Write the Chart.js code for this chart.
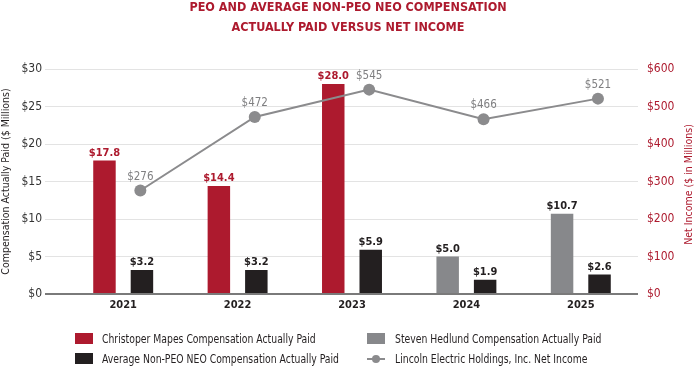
<!DOCTYPE html>
<html>
<head>
<meta charset="utf-8">
<script src="https://cdn.jsdelivr.net/npm/chart.js@4/dist/chart.umd.min.js"></script>
<style>
html,body{margin:0;padding:0;background:#fff;}
#wrap{position:relative;width:696px;height:366px;overflow:hidden;}
#c{position:absolute;left:0;top:0;}
#legend{position:absolute;left:0;top:0;width:696px;height:366px;pointer-events:none;
  font-family:'Liberation Sans Narrow','DejaVu Sans Condensed',sans-serif;font-size:12px;color:#231f20;}
.item{position:absolute;height:16px;line-height:16px;white-space:nowrap;}
.sw{position:absolute;left:0;top:2px;width:18px;height:11px;}
.ln{position:absolute;left:0;top:7px;width:18px;height:2px;}
.dot{position:absolute;left:5px;top:4px;width:8px;height:8px;border-radius:50%;}
.tx{position:absolute;top:0;transform:scaleX(0.86);transform-origin:0 50%;}
</style>
</head>
<body>
<div id="wrap">
<canvas id="c" width="696" height="366"></canvas>
<div id="legend"></div>
</div>
<script>
// ---- data ----
const years = ['2021', '2022', '2023', '2024', '2025'];
const mapesCAP = [17.8, 14.4, 28.0, null, null];
const hedlundCAP = [null, null, null, 5.0, 10.7];
const avgNeoCAP = [3.2, 3.2, 5.9, 1.9, 2.6];
const netIncome = [276, 472, 545, 466, 521];
const titleLines = ['PEO AND AVERAGE NON-PEO NEO COMPENSATION', 'ACTUALLY PAID VERSUS NET INCOME'];
const seriesNames = [
  'Christoper Mapes Compensation Actually Paid',
  'Steven Hedlund Compensation Actually Paid',
  'Average Non-PEO NEO Compensation Actually Paid',
  'Lincoln Electric Holdings, Inc. Net Income'
];

const FONT = "'Liberation Sans Narrow','DejaVu Sans Condensed',sans-serif";
const RED = '#ad1a2e';
const GRAY = '#87888b';
const BLACK = '#231f20';
const LINEGRAY = '#8b8b8d';

// Chart.js >= 4.5 splits bar groups by index axis; compensate so the bar pair stays centred.
const axisSplit = !!(Chart.controllers && Chart.controllers.bar &&
  typeof Chart.controllers.bar.prototype._getAxisCount === 'function');
const catPct = axisSplit ? 1.31 : 0.655;

const valueLabels = {
  id: 'valueLabels',
  afterDatasetsDraw(chart) {
    const ctx = chart.ctx;
    chart.data.datasets.forEach((ds, i) => {
      const meta = chart.getDatasetMeta(i);
      meta.data.forEach((el, j) => {
        const raw = ds.data[j];
        const val = (raw && typeof raw === 'object') ? raw.y : raw;
        if (val === null || val === undefined) return;
        ctx.save();
        ctx.textAlign = 'center';
        ctx.textBaseline = 'bottom';
        if (ds.type === 'line') {
          ctx.font = '11.5px ' + FONT;
          ctx.fillStyle = '#7f7f81';
          ctx.fillText('$' + val, el.x, el.y - 8);
        } else {
          ctx.font = 'bold 11px ' + FONT;
          ctx.fillStyle = ds.labelColor;
          ctx.fillText('$' + val.toFixed(1), el.x, el.y - 2);
        }
        ctx.restore();
      });
    });
  }
};

const rightTitle = {
  id: 'rightTitle',
  afterDraw(chart) {
    const ctx = chart.ctx;
    const a = chart.chartArea;
    ctx.save();
    ctx.translate(689, (a.top + a.bottom) / 2 + 3);
    ctx.rotate(-Math.PI / 2);
    ctx.font = '10.5px ' + FONT;
    ctx.fillStyle = RED;
    ctx.textAlign = 'center';
    ctx.textBaseline = 'middle';
    ctx.fillText('Net Income ($ in Millions)', 0, 0);
    ctx.restore();
  }
};

const barCommon = { categoryPercentage: catPct, barPercentage: 0.6, order: 1, yAxisID: 'y', xAxisID: 'x' };

const chart = new Chart(document.getElementById('c'), {
  type: 'bar',
  data: {
    labels: years,
    datasets: [
      {
        type: 'line', label: seriesNames[3],
        data: netIncome.map((v, i) => ({ x: i, y: v })),
        borderColor: LINEGRAY, backgroundColor: LINEGRAY, borderWidth: 2,
        pointRadius: 6, pointBackgroundColor: LINEGRAY, pointBorderWidth: 0,
        tension: 0, order: 0, yAxisID: 'y1', xAxisID: 'x2'
      },
      Object.assign({ label: seriesNames[0], data: mapesCAP, backgroundColor: RED, labelColor: RED, stack: 'peo' }, barCommon),
      Object.assign({ label: seriesNames[1], data: hedlundCAP, backgroundColor: GRAY, labelColor: BLACK, stack: 'peo' }, barCommon),
      Object.assign({ label: seriesNames[2], data: avgNeoCAP, backgroundColor: BLACK, labelColor: BLACK, stack: 'neo' }, barCommon)
    ]
  },
  options: {
    responsive: false,
    animation: false,
    events: [],
    layout: { padding: { top: 0, left: 0, right: 0, bottom: 52 } },
    plugins: {
      legend: { display: false },
      tooltip: { enabled: false },
      title: {
        display: true,
        text: titleLines,
        color: RED,
        font: { family: FONT, size: 12.5, weight: 'bold', lineHeight: 20 / 12.5 },
        padding: { top: -2, bottom: 31 }
      }
    },
    scales: {
      x: {
        type: 'category',
        offset: true,
        stacked: true,
        grid: { display: false, drawTicks: false },
        border: { display: false },
        ticks: { color: '#231f20', font: { family: FONT, size: 11, weight: 'bold' }, padding: 5 },
        afterFit(s) { s.height = 20; }
      },
      x2: {
        type: 'linear', display: false, offset: false, grid: { offset: false },
        min: -0.65, max: 4.35
      },
      y: {
        position: 'left',
        stacked: false,
        min: 0, max: 30,
        ticks: { stepSize: 5, color: '#333', padding: 3, font: { family: FONT, size: 12 }, callback: v => '$' + v },
        grid: {
          color: c => (c.tick && c.tick.value === 0) ? '#7a7a7a' : '#e3e3e3',
          lineWidth: c => (c.tick && c.tick.value === 0) ? 2 : 1,
          tickLength: 21, drawTicks: true
        },
        border: { display: false },
        title: { display: true, text: 'Compensation Actually Paid ($ Millions)', color: '#231f20', font: { family: FONT, size: 10.5 }, padding: 0 },
        afterFit(s) { s.width = 66; }
      },
      y1: {
        position: 'right',
        min: 0, max: 600,
        ticks: { stepSize: 100, color: RED, padding: 9, font: { family: FONT, size: 12 }, callback: v => '$' + v },
        grid: { display: false, drawTicks: false },
        border: { display: false },
        afterFit(s) { s.width = 58; }
      }
    }
  },
  plugins: [valueLabels, rightTitle]
});

// HTML legend (2 columns, row-major in seriesNames order)
(function () {
  const lg = document.getElementById('legend');
  const cols = [75, 367];
  const rows = [339, 359];
  seriesNames.forEach((name, i) => {
    const ds = chart.data.datasets.find(d => d.label === name);
    const item = document.createElement('div');
    item.className = 'item';
    item.style.left = cols[i % 2] + 'px';
    item.style.top = (rows[Math.floor(i / 2)] - 8) + 'px';
    let mark;
    if (ds.type === 'line') {
      mark = '<div class="ln" style="background:' + ds.borderColor + '"></div><div class="dot" style="background:' + ds.borderColor + '"></div>';
    } else {
      mark = '<div class="sw" style="background:' + ds.backgroundColor + '"></div>';
    }
    item.innerHTML = mark + '<div class="tx" style="left:' + (i % 2 === 0 ? 27 : 28) + 'px">' + ds.label + '</div>';
    lg.appendChild(item);
  });
})();
</script>
</body>
</html>
